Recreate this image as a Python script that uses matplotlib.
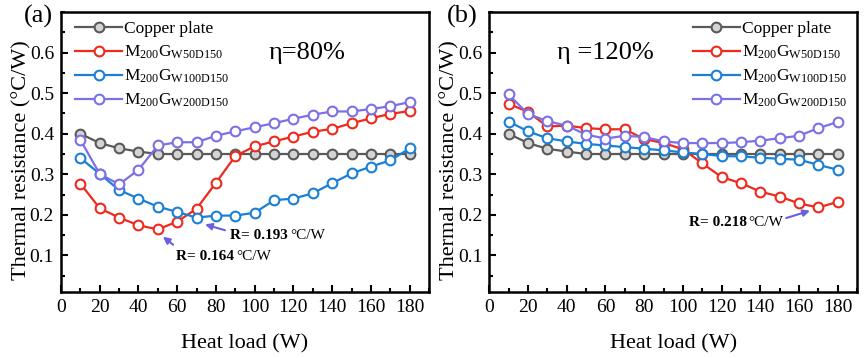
import numpy as np
import matplotlib
matplotlib.use('Agg')
import matplotlib.pyplot as plt
from matplotlib.ticker import MultipleLocator

plt.rcParams['font.family'] = ['Liberation Serif', 'DejaVu Serif']
plt.rcParams['mathtext.fontset'] = 'custom'
plt.rcParams['mathtext.rm'] = 'Liberation Serif'
plt.rcParams['mathtext.it'] = 'Liberation Serif:italic'
plt.rcParams['mathtext.bf'] = 'Liberation Serif:bold'

# heat load (W)
heat = [10, 20, 30, 40, 50, 60, 70, 80, 90, 100, 110, 120, 130, 140, 150, 160, 170, 180]

# (a) eta = 80%
cu_a = [0.400, 0.377, 0.364, 0.356, 0.350, 0.350, 0.350, 0.350, 0.350, 0.350,
        0.350, 0.350, 0.350, 0.350, 0.350, 0.350, 0.350, 0.350]
w50_a = [0.277, 0.216, 0.193, 0.174, 0.164, 0.183, 0.215, 0.279, 0.345, 0.369,
         0.381, 0.393, 0.405, 0.412, 0.426, 0.438, 0.449, 0.456]
w100_a = [0.340, 0.301, 0.261, 0.240, 0.220, 0.207, 0.193, 0.198, 0.198, 0.205,
          0.236, 0.240, 0.253, 0.278, 0.302, 0.319, 0.334, 0.364]
w200_a = [0.385, 0.301, 0.275, 0.311, 0.371, 0.379, 0.379, 0.395, 0.406, 0.416,
          0.426, 0.437, 0.447, 0.455, 0.455, 0.461, 0.468, 0.478]

# (b) eta = 120%
cu_b = [0.400, 0.377, 0.363, 0.356, 0.350, 0.350, 0.350, 0.350, 0.350, 0.350,
        0.350, 0.350, 0.350, 0.350, 0.350, 0.350, 0.350, 0.350]
w50_b = [0.474, 0.454, 0.418, 0.420, 0.414, 0.411, 0.411, 0.387, 0.377, 0.362,
         0.327, 0.293, 0.278, 0.257, 0.245, 0.228, 0.218, 0.232]
w100_b = [0.430, 0.406, 0.389, 0.381, 0.375, 0.371, 0.367, 0.363, 0.359, 0.354,
          0.350, 0.345, 0.344, 0.341, 0.338, 0.336, 0.323, 0.311]
w200_b = [0.497, 0.449, 0.431, 0.420, 0.398, 0.388, 0.395, 0.392, 0.381, 0.377,
          0.377, 0.377, 0.379, 0.383, 0.389, 0.395, 0.414, 0.429]

labels = ['Copper plate',
          r'M$_{\mathrm{200}}$G$_{\mathrm{W50D150}}$',
          r'M$_{\mathrm{200}}$G$_{\mathrm{W100D150}}$',
          r'M$_{\mathrm{200}}$G$_{\mathrm{W200D150}}$']
colors = ['#5a5a5a', '#ee2a1e', '#1a80d6', '#7b70e6']
faces = ['#d4d4d4', 'white', 'white', 'white']
arrow_c = '#6a5fe0'

fig = plt.figure(figsize=(8.65, 3.58), dpi=100)
ax1 = fig.add_axes([0.0705, 0.185, 0.4255, 0.781])
ax2 = fig.add_axes([0.5655, 0.185, 0.4255, 0.781])


def draw(ax, series, loc, anchor):
    for s, c, f, lab in zip(series, colors, faces, labels):
        ax.plot(heat, s, '-o', color=c, mfc=f, mec=c, mew=1.5, ms=7, lw=1.6, label=lab)
    ax.set_xlim(0, 190)
    ax.set_ylim(0.01, 0.70)
    ax.set_xticks(np.arange(0, 181, 20))
    ax.set_yticks([0.1, 0.2, 0.3, 0.4, 0.5, 0.6])
    ax.xaxis.set_minor_locator(MultipleLocator(10))
    ax.yaxis.set_minor_locator(MultipleLocator(0.05))
    ax.tick_params(which='both', direction='in', top=False, right=False, width=1.5, labelsize=14)
    ax.tick_params(which='major', length=5, pad=5)
    ax.tick_params(which='minor', length=3)
    for sp in ax.spines.values():
        sp.set_linewidth(1.8)
    ax.set_xlabel('Heat load (W)', fontsize=16, labelpad=13)
    ax.set_ylabel('Thermal resistance (°C/W)', fontsize=16, labelpad=-1)
    ax.yaxis.label.set_y(0.47)
    ax.legend(loc=loc, bbox_to_anchor=anchor, frameon=False, fontsize=12.5, handlelength=2.7,
              handletextpad=0.1, labelspacing=0.38, borderaxespad=0.2)


draw(ax1, [cu_a, w50_a, w100_a, w200_a], 'upper left', (0.01, 1.005))
draw(ax2, [cu_b, w50_b, w100_b, w200_b], 'upper right', (1.0, 1.005))

ax1.text(107, 0.6, 'η=80%', fontsize=19, va='center')
ax2.text(35, 0.6, 'η =120%', fontsize=19, va='center')

# annotations
ax1.annotate('', xy=(51.5, 0.150), xytext=(59, 0.122),
             arrowprops=dict(arrowstyle='-|>', color=arrow_c, lw=1.5, mutation_scale=10))
ax1.text(59.5, 0.098, 'R= 0.164', fontsize=11, fontweight='bold', va='center')
ax1.text(90.5, 0.098, '°C/W', fontsize=11, va='center')

ax1.annotate('', xy=(73, 0.178), xytext=(86, 0.160),
             arrowprops=dict(arrowstyle='-|>', color=arrow_c, lw=1.5, mutation_scale=10))
ax1.text(87.5, 0.148, 'R= 0.193', fontsize=11, fontweight='bold', va='center')
ax1.text(118.5, 0.148, '°C/W', fontsize=11, va='center')

ax2.annotate('', xy=(167, 0.212), xytext=(152, 0.190),
             arrowprops=dict(arrowstyle='-|>', color=arrow_c, lw=1.5, mutation_scale=10))
ax2.text(103, 0.18, 'R= 0.218', fontsize=11, fontweight='bold', va='center')
ax2.text(134, 0.18, '°C/W', fontsize=11, va='center')

fig.text(0.028, 0.953, '(a)', fontsize=19, va='center')
fig.text(0.517, 0.953, '(b)', fontsize=19, va='center')

fig.savefig('out.png', dpi=100)
